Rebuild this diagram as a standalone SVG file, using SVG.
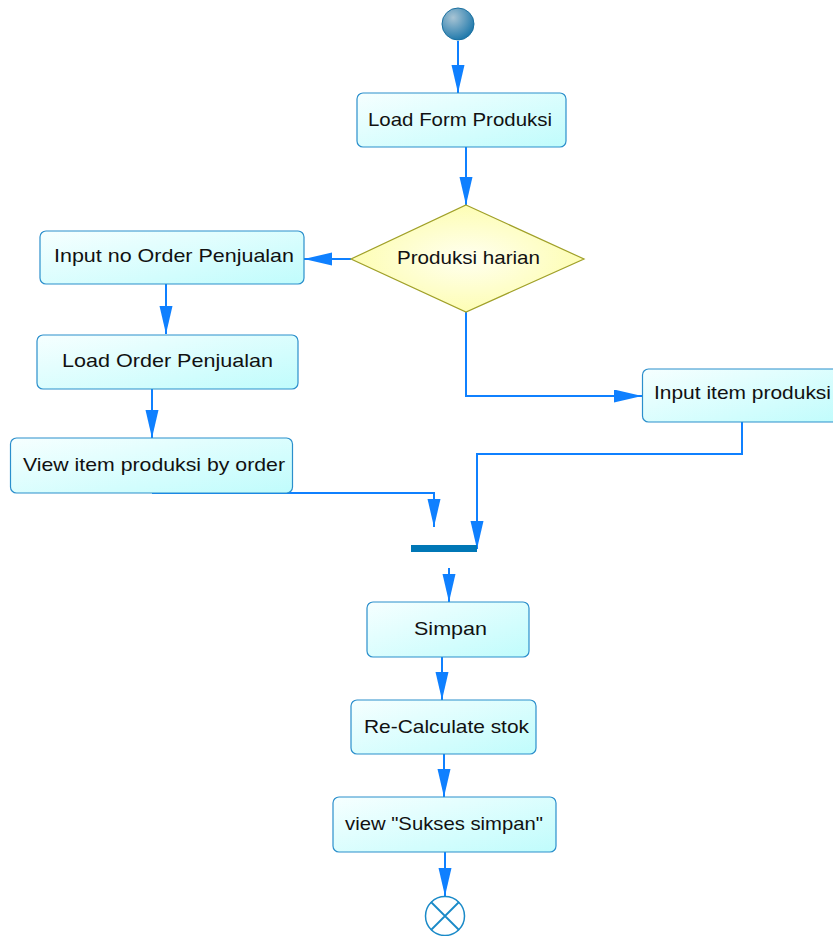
<svg xmlns="http://www.w3.org/2000/svg" width="833" height="936" viewBox="0 0 833 936">
<style>
.box{fill:url(#boxg);stroke:#2b8fcc;stroke-width:1.2}
.lbl{font-family:"Liberation Sans",Arial,sans-serif;font-size:19px;fill:#111}
.conn{fill:none;stroke:#0f80ff;stroke-width:2;marker-end:url(#arr)}
</style>
<defs>
<linearGradient id="boxg" x1="0" y1="0" x2="1" y2="1">
<stop offset="0" stop-color="#f6ffff"/>
<stop offset="1" stop-color="#c0fcfc"/>
</linearGradient>
<radialGradient id="diag" cx="0.5" cy="0.5" r="0.6">
<stop offset="0" stop-color="#fffff0"/>
<stop offset="1" stop-color="#fdfda8"/>
</radialGradient>
<radialGradient id="startg" cx="0.35" cy="0.3" r="0.75">
<stop offset="0" stop-color="#a8c4d4"/>
<stop offset="1" stop-color="#1a76aa"/>
</radialGradient>
<marker id="arr" markerUnits="userSpaceOnUse" markerWidth="30" markerHeight="14" refX="28" refY="6.5" orient="auto">
<path d="M0,0 L28,6.5 L0,13 z" fill="#0f80ff"/>
</marker>
</defs>
<g id="connectors">
<path class="conn" d="M458,41 L458,93"/>
<path class="conn" d="M466,147 L466,205"/>
<path class="conn" d="M351,259 L304,259"/>
<path class="conn" d="M466,312 L466,396 L642,396"/>
<path class="conn" d="M166,284 L166,334"/>
<path class="conn" d="M152,389 L152,438"/>
<path class="conn" d="M152,493 L434,493 L434,527"/>
<path class="conn" d="M742,422 L742,454 L477,454 L477,549"/>
<path class="conn" d="M449,568 L449,602"/>
<path class="conn" d="M442,657 L442,700"/>
<path class="conn" d="M444,754 L444,797"/>
<path class="conn" d="M445,852 L445,896"/>
</g>
<g id="start">
<circle cx="458" cy="24" r="16" fill="url(#startg)" stroke="#1a70a0" stroke-width="1"/>
</g>
<g id="load-form">
<rect class="box" x="357" y="93" width="209" height="54" rx="6"/>
<text class="lbl" x="368" y="126" textLength="184" lengthAdjust="spacingAndGlyphs">Load Form Produksi</text>
</g>
<g id="decision">
<polygon points="466,205 584,259 466,312 351,259" fill="url(#diag)" stroke="#a0a028" stroke-width="1.2"/>
<text class="lbl" x="397" y="264" textLength="143" lengthAdjust="spacingAndGlyphs">Produksi harian</text>
</g>
<g id="input-order">
<rect class="box" x="40" y="231" width="264" height="53" rx="6"/>
<text class="lbl" x="54" y="262" textLength="240" lengthAdjust="spacingAndGlyphs">Input no Order Penjualan</text>
</g>
<g id="load-order">
<rect class="box" x="37" y="335" width="261" height="54" rx="6"/>
<text class="lbl" x="62" y="367" textLength="211" lengthAdjust="spacingAndGlyphs">Load Order Penjualan</text>
</g>
<g id="view-item">
<rect class="box" x="10.5" y="438" width="282" height="55" rx="6"/>
<text class="lbl" x="23" y="471" textLength="262" lengthAdjust="spacingAndGlyphs">View item produksi by order</text>
</g>
<g id="input-item">
<rect class="box" x="642.5" y="369" width="200" height="53" rx="6"/>
<text class="lbl" x="654" y="399" textLength="177" lengthAdjust="spacingAndGlyphs">Input item produksi</text>
</g>
<g id="join">
<rect x="411" y="545" width="66" height="7" fill="#0077b6"/>
</g>
<g id="simpan">
<rect class="box" x="367" y="602" width="162" height="55" rx="6"/>
<text class="lbl" x="414" y="635" textLength="73" lengthAdjust="spacingAndGlyphs">Simpan</text>
</g>
<g id="recalc">
<rect class="box" x="351" y="700" width="185" height="54" rx="6"/>
<text class="lbl" x="364" y="733" textLength="165" lengthAdjust="spacingAndGlyphs">Re-Calculate stok</text>
</g>
<g id="view-sukses">
<rect class="box" x="333" y="797" width="223" height="55" rx="6"/>
<text class="lbl" x="345" y="830" textLength="198" lengthAdjust="spacingAndGlyphs">view "Sukses simpan"</text>
</g>
<g id="end">
<circle cx="445" cy="916" r="19.5" fill="#ffffff" stroke="#1a8ac8" stroke-width="1.5"/>
<path d="M431,902 L459,930 M459,902 L431,930" stroke="#1a8ac8" stroke-width="1.8"/>
</g>
</svg>
